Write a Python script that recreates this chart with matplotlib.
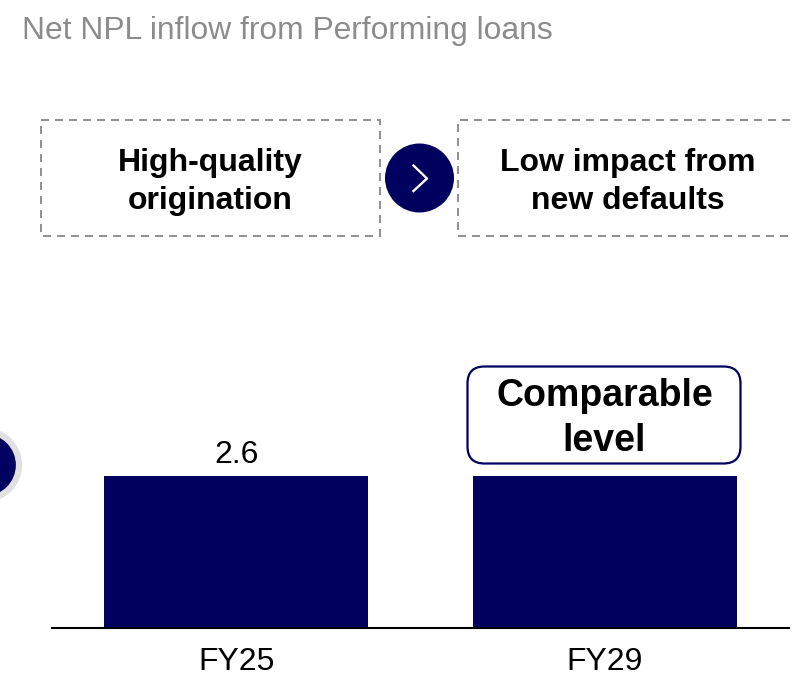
import matplotlib
matplotlib.use('Agg')
import matplotlib.pyplot as plt
from matplotlib.patches import Rectangle, Circle, FancyBboxPatch

# Values
years = ['FY25', 'FY29']
npl_inflow = [2.6, 2.6]
bar_labels = ['2.6', '']

navy = '#00005f'
grey = '#8f8f8f'
W, H = 794, 678

plt.rcParams['font.family'] = ['Liberation Sans', 'DejaVu Sans']

fig = plt.figure(figsize=(W / 100, H / 100), dpi=100)

# overlay in pixel coordinates, y going down like the reference
bg = fig.add_axes([0, 0, 1, 1])
bg.set_xlim(0, W)
bg.set_ylim(H, 0)
bg.axis('off')

bg.text(22, 31, 'Net NPL inflow from Performing loans', fontsize=22.9, color='#8c8c8c', va='center', ha='left')

# dashed boxes, the right one runs off the chart area
dash = (0, (4.1, 3.1))
bg.add_patch(Rectangle((40.5, 120), 339.5, 116, fill=False, ec=grey, lw=1.4, ls=dash))
bg.plot([790, 458, 458, 790], [120, 120, 236, 236], color=grey, lw=1.4, ls=dash)
bg.text(210.5, 182, 'High-quality\norigination', fontsize=23, fontweight='bold', ha='center', va='center', linespacing=1.37)
bg.text(627.5, 182, 'Low impact from\nnew defaults', fontsize=23, fontweight='bold', ha='center', va='center', linespacing=1.37)

# arrow circle between the boxes
bg.add_patch(Circle((419.5, 178), 34.5, fc=navy, ec='none'))
bg.plot([413.5, 427, 413.5], [165.5, 178.5, 191], color='white', lw=1.7)

# cut-off circle on the left edge
bg.add_patch(Circle((-15, 465), 34, fc=navy, ec='#e0e0e0', lw=4.5))

# bars
ax = fig.add_axes([52 / W, 1 - 628 / H, (789 - 52) / W, 152 / H])
ax.patch.set_alpha(0)
bars = ax.bar(years, npl_inflow, width=0.717, color=navy)
ax.set_xlim(-0.5, 1.5)
ax.set_ylim(0, 2.6)
ax.bar_label(bars, labels=bar_labels, padding=4, fontsize=23, color='black')
for s in ['top', 'left', 'right']:
    ax.spines[s].set_visible(False)
ax.spines['bottom'].set_linewidth(1.5)
ax.set_yticks([])
ax.tick_params(axis='x', length=0, labelsize=23, pad=14)

# callout on top of FY29
bg.set_zorder(2)
bg.add_patch(FancyBboxPatch((480, 379), 248, 72, boxstyle='round,pad=12.5,rounding_size=17', fc='white', ec=navy, lw=1.6))
bg.text(604.5, 418.5, 'Comparable\nlevel', fontsize=27, fontweight='bold', ha='center', va='center', linespacing=1.33)

fig.savefig('out.png', dpi=100)
